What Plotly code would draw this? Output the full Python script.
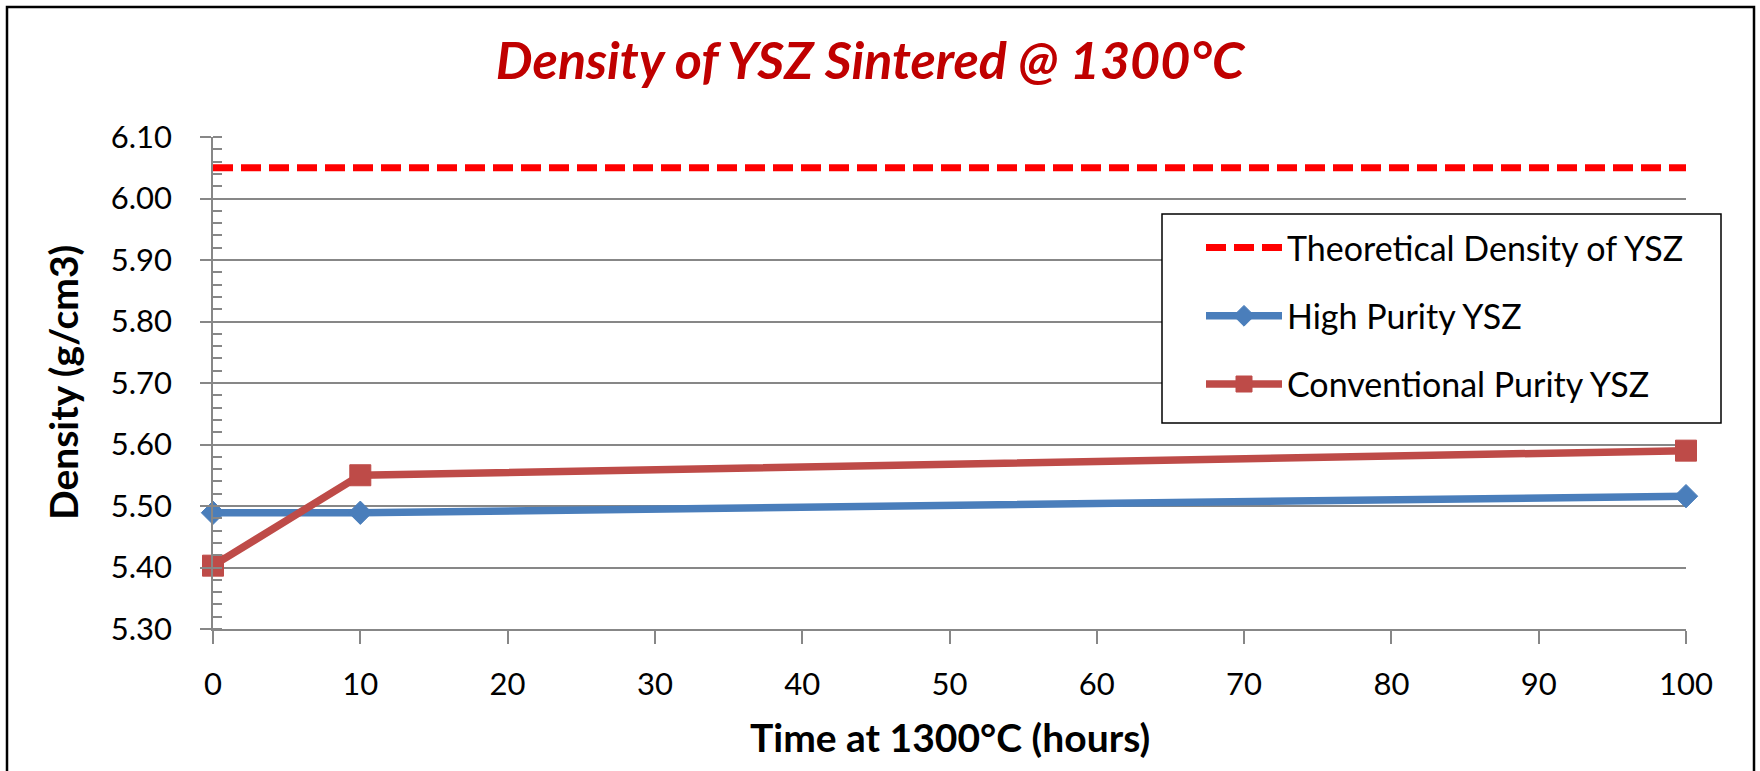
import plotly.graph_objects as go

# Sintering time at 1300 °C (hours)
time_hours = [0, 10, 100]

# Measured densities (g/cm3)
high_purity = [5.489, 5.489, 5.516]
conventional_purity = [5.403, 5.550, 5.590]

# Theoretical density of YSZ, drawn across the full time span
theoretical_x = [0, 100]
theoretical_density = [6.05, 6.05]

series_names = [
    "Theoretical Density of YSZ",
    "High Purity YSZ",
    "Conventional Purity YSZ",
]

# Page geometry (pixels)
W, H = 1760, 771
L, R, T, B = 213, 1686, 137, 629
PW, PH = R - L, B - T


def px_x(px):
    return (px - L) / PW


def px_y(py):
    return (B - py) / PH


FONT = "Lato"
GRID = "#878787"
BLUE = "#4A7EBB"
RED = "#BE4B48"

fig = go.Figure()

fig.add_trace(go.Scatter(
    x=theoretical_x, y=theoretical_density, name=series_names[0],
    mode="lines", legendgroup="a",
    line=dict(color="#FF0000", width=7, dash="20px,8px"),
    cliponaxis=False,
))
fig.add_trace(go.Scatter(
    x=time_hours, y=high_purity, name=series_names[1],
    mode="lines+markers", legendgroup="b",
    line=dict(color=BLUE, width=7.5),
    marker=dict(symbol="diamond", size=18, color=BLUE, line=dict(color=BLUE, width=1)),
    cliponaxis=False,
))
fig.add_trace(go.Scatter(
    x=time_hours, y=conventional_purity, name=series_names[2],
    mode="lines+markers", legendgroup="c",
    line=dict(color=RED, width=7.5),
    marker=dict(symbol="square", size=21, color=RED, line=dict(color=RED, width=1)),
    cliponaxis=False,
))

fig.update_layout(
    width=W, height=H,
    margin=dict(l=L, r=W - R, t=T, b=H - B, pad=0),
    paper_bgcolor="white", plot_bgcolor="white",
    font=dict(family=FONT, color="black"),
    title=dict(
        text="Density of YSZ Sintered @ 1300°C",
        x=870 / W, xref="container", xanchor="center",
        y=1 - 61 / H, yref="container", yanchor="middle",
        font=dict(family=FONT, size=52, color="#C00000", weight="bold", style="italic"),
    ),
    xaxis=dict(
        range=[0, 100], dtick=10, tick0=0,
        showgrid=False, zeroline=False,
        showline=True, linecolor=GRID, linewidth=1.5,
        ticks="outside", ticklen=13, tickwidth=1.5, tickcolor=GRID,
        tickfont=dict(family=FONT, size=31, color="black"),
        ticklabelstandoff=14,
    ),
    xaxis2=dict(
        range=[0, 100], dtick=2, tick0=0,
        overlaying="x", anchor="y", side="bottom",
        showgrid=False, zeroline=False, showline=False,
        ticks="inside", ticklen=8, tickwidth=1.5, tickcolor=GRID,
        showticklabels=False,
    ),
    yaxis=dict(
        range=[5.30, 6.10], dtick=0.1, tick0=5.30, tickformat=".2f",
        showgrid=True, gridcolor=GRID, gridwidth=1.5,
        zeroline=False,
        showline=True, linecolor=GRID, linewidth=1.5,
        ticks="outside", ticklen=11, tickwidth=1.5, tickcolor=GRID,
        minor=dict(ticks="inside", dtick=0.02, ticklen=9, tickwidth=1.5,
                   tickcolor=GRID, showgrid=False),
        tickfont=dict(family=FONT, size=31, color="black"),
        ticklabelstandoff=22,
    ),
    legend=dict(
        x=px_x(1201), y=px_y(219), xanchor="left", yanchor="top",
        bgcolor="rgba(0,0,0,0)", borderwidth=0,
        font=dict(family=FONT, size=34, color="black"),
        traceorder="grouped", tracegroupgap=21,
        itemwidth=76,
    ),
    showlegend=True,
)

# Legend frame
fig.add_shape(
    type="rect", xref="paper", yref="paper",
    x0=px_x(1162), x1=px_x(1721), y0=px_y(423), y1=px_y(214),
    line=dict(color="black", width=1.5), fillcolor="white", layer="above",
)

# Axis titles
fig.add_annotation(
    text="Time at 1300°C (hours)", xref="paper", yref="paper",
    x=px_x(950), y=px_y(737), xanchor="center", yanchor="middle",
    showarrow=False, font=dict(family=FONT, size=39, weight="bold", color="black"),
)
fig.add_annotation(
    text="Density (g/cm3)", xref="paper", yref="paper", textangle=-90,
    x=px_x(63), y=px_y(383), xanchor="center", yanchor="middle",
    showarrow=False, font=dict(family=FONT, size=39, weight="bold", color="black"),
)

# Chart-area border
fig.add_shape(
    type="rect", xref="paper", yref="paper",
    x0=px_x(7), x1=px_x(1754), y0=px_y(790), y1=px_y(7),
    line=dict(color="black", width=2.5), fillcolor="rgba(0,0,0,0)", layer="above",
)

fig.write_html("out.html")
